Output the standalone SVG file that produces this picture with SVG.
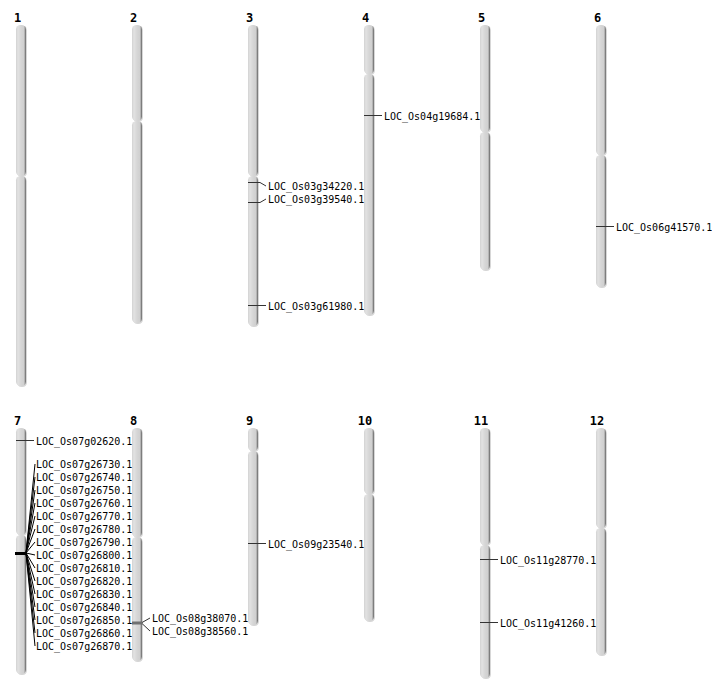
<svg xmlns="http://www.w3.org/2000/svg" width="712" height="700" viewBox="0 0 712 700">
<defs>
<linearGradient id="cg" x1="0" y1="0" x2="1" y2="0">
<stop offset="0" stop-color="#d2d2d2"/>
<stop offset="0.2" stop-color="#e2e2e2"/>
<stop offset="0.5" stop-color="#d6d6d6"/>
<stop offset="0.78" stop-color="#d0d0d0"/>
<stop offset="0.9" stop-color="#a0a0a0"/>
<stop offset="1" stop-color="#5a5a5a"/>
</linearGradient>
</defs>
<style>
.arm{fill:url(#cg);}
.sh{fill:#9a9a9a;opacity:0.4;}
.num{font-family:"DejaVu Sans Mono",monospace;font-weight:bold;font-size:12px;fill:#000;text-anchor:middle;}
.lab{font-family:"DejaVu Sans Mono",monospace;font-size:10px;fill:#000;}
.mk{stroke:#333;stroke-width:1;fill:none;}
.fan{stroke:#000;stroke-width:1;fill:none;}
</style>
<rect width="712" height="700" fill="#fff"/>

<g id="chr1">
<text class="num" x="17.5" y="22">1</text>
<rect class="sh" x="17" y="26" width="10" height="151" rx="4.5"/><rect class="sh" x="17" y="177" width="10" height="210" rx="4.5"/>
<rect class="arm" x="16" y="25" width="10" height="151" rx="4.5"/><rect class="arm" x="16" y="176" width="10" height="210" rx="4.5"/>
</g>
<g id="chr2">
<text class="num" x="133.5" y="22">2</text>
<rect class="sh" x="133" y="26" width="10" height="96" rx="4.5"/><rect class="sh" x="133" y="122" width="10" height="202" rx="4.5"/>
<rect class="arm" x="132" y="25" width="10" height="96" rx="4.5"/><rect class="arm" x="132" y="121" width="10" height="202" rx="4.5"/>
</g>
<g id="chr3">
<text class="num" x="249.5" y="22">3</text>
<rect class="sh" x="249" y="26" width="10" height="151" rx="4.5"/><rect class="sh" x="249" y="177" width="10" height="150" rx="4.5"/>
<rect class="arm" x="248" y="25" width="10" height="151" rx="4.5"/><rect class="arm" x="248" y="176" width="10" height="150" rx="4.5"/>
</g>
<g id="chr4">
<text class="num" x="365.5" y="22">4</text>
<rect class="sh" x="365" y="26" width="10" height="49" rx="4.5"/><rect class="sh" x="365" y="75" width="10" height="241" rx="4.5"/>
<rect class="arm" x="364" y="25" width="10" height="49" rx="4.5"/><rect class="arm" x="364" y="74" width="10" height="241" rx="4.5"/>
</g>
<g id="chr5">
<text class="num" x="481.5" y="22">5</text>
<rect class="sh" x="481" y="26" width="10" height="107" rx="4.5"/><rect class="sh" x="481" y="133" width="10" height="138" rx="4.5"/>
<rect class="arm" x="480" y="25" width="10" height="107" rx="4.5"/><rect class="arm" x="480" y="132" width="10" height="138" rx="4.5"/>
</g>
<g id="chr6">
<text class="num" x="597.5" y="22">6</text>
<rect class="sh" x="597" y="26" width="10" height="130" rx="4.5"/><rect class="sh" x="597" y="156" width="10" height="132" rx="4.5"/>
<rect class="arm" x="596" y="25" width="10" height="130" rx="4.5"/><rect class="arm" x="596" y="155" width="10" height="132" rx="4.5"/>
</g>
<g id="chr7">
<text class="num" x="17.5" y="425">7</text>
<rect class="sh" x="17" y="429" width="10" height="107" rx="4.5"/><rect class="sh" x="17" y="536" width="10" height="139" rx="4.5"/>
<rect class="arm" x="16" y="428" width="10" height="107" rx="4.5"/><rect class="arm" x="16" y="535" width="10" height="139" rx="4.5"/>
</g>
<g id="chr8">
<text class="num" x="133.5" y="425">8</text>
<rect class="sh" x="133" y="429" width="10" height="109" rx="4.5"/><rect class="sh" x="133" y="538" width="10" height="124" rx="4.5"/>
<rect class="arm" x="132" y="428" width="10" height="109" rx="4.5"/><rect class="arm" x="132" y="537" width="10" height="124" rx="4.5"/>
</g>
<g id="chr9">
<text class="num" x="249.5" y="425">9</text>
<rect class="sh" x="249" y="429" width="10" height="23" rx="4.5"/><rect class="sh" x="249" y="452" width="10" height="174" rx="4.5"/>
<rect class="arm" x="248" y="428" width="10" height="23" rx="4.5"/><rect class="arm" x="248" y="451" width="10" height="174" rx="4.5"/>
</g>
<g id="chr10">
<text class="num" x="365" y="425">10</text>
<rect class="sh" x="365" y="429" width="10" height="66" rx="4.5"/><rect class="sh" x="365" y="495" width="10" height="127" rx="4.5"/>
<rect class="arm" x="364" y="428" width="10" height="66" rx="4.5"/><rect class="arm" x="364" y="494" width="10" height="127" rx="4.5"/>
</g>
<g id="chr11">
<text class="num" x="481" y="425">11</text>
<rect class="sh" x="481" y="429" width="10" height="117" rx="4.5"/><rect class="sh" x="481" y="546" width="10" height="133" rx="4.5"/>
<rect class="arm" x="480" y="428" width="10" height="117" rx="4.5"/><rect class="arm" x="480" y="545" width="10" height="133" rx="4.5"/>
</g>
<g id="chr12">
<text class="num" x="597" y="425">12</text>
<rect class="sh" x="597" y="429" width="10" height="100" rx="4.5"/><rect class="sh" x="597" y="529" width="10" height="127" rx="4.5"/>
<rect class="arm" x="596" y="428" width="10" height="100" rx="4.5"/><rect class="arm" x="596" y="528" width="10" height="127" rx="4.5"/>
</g>

<g id="connectors">
<polyline class="mk" points="248,182.5 260,182.5 266,186"/>
<polyline class="mk" points="248,202.5 260,202.5 266,199"/>
<polyline class="mk" points="248,305.5 266,305.5"/>
<polyline class="mk" points="364,115.5 382,115.5"/>
<polyline class="mk" points="596,226.5 614,226.5"/>
<polyline class="mk" points="16,440.5 34,440.5"/>
<polyline class="mk" points="248,543.5 266,543.5"/>
<polyline class="mk" points="480,559.5 498,559.5"/>
<polyline class="mk" points="480,622.5 498,622.5"/>
<rect x="132" y="621.5" width="10" height="3" fill="#707070"/>
<polyline class="mk" points="142,622.5 150,618"/>
<polyline class="mk" points="142,623.5 150,631"/>
<rect x="15" y="552" width="11" height="3" fill="#000"/>
<g class="fan">
<line x1="26" y1="553" x2="35" y2="464"/>
<line x1="26" y1="553" x2="35" y2="477"/>
<line x1="26" y1="553" x2="35" y2="490"/>
<line x1="26" y1="553" x2="35" y2="503"/>
<line x1="26" y1="553" x2="35" y2="516"/>
<line x1="26" y1="553" x2="35" y2="529"/>
<line x1="26" y1="553" x2="35" y2="542"/>
<line x1="26" y1="553" x2="35" y2="555"/>
<line x1="26" y1="553" x2="35" y2="568"/>
<line x1="26" y1="553" x2="35" y2="581"/>
<line x1="26" y1="553" x2="35" y2="594"/>
<line x1="26" y1="553" x2="35" y2="607"/>
<line x1="26" y1="553" x2="35" y2="620"/>
<line x1="26" y1="553" x2="35" y2="633"/>
<line x1="26" y1="553" x2="35" y2="646"/>
</g>
</g>

<g id="genes">
<text class="lab" x="268" y="189.5">LOC_Os03g34220.1</text>
<text class="lab" x="268" y="202.5">LOC_Os03g39540.1</text>
<text class="lab" x="268" y="309.5">LOC_Os03g61980.1</text>
<text class="lab" x="384" y="119.5">LOC_Os04g19684.1</text>
<text class="lab" x="616" y="230.5">LOC_Os06g41570.1</text>
<text class="lab" x="36" y="444.5">LOC_Os07g02620.1</text>
<text class="lab" x="36" y="467.5">LOC_Os07g26730.1</text>
<text class="lab" x="36" y="480.5">LOC_Os07g26740.1</text>
<text class="lab" x="36" y="493.5">LOC_Os07g26750.1</text>
<text class="lab" x="36" y="506.5">LOC_Os07g26760.1</text>
<text class="lab" x="36" y="519.5">LOC_Os07g26770.1</text>
<text class="lab" x="36" y="532.5">LOC_Os07g26780.1</text>
<text class="lab" x="36" y="545.5">LOC_Os07g26790.1</text>
<text class="lab" x="36" y="558.5">LOC_Os07g26800.1</text>
<text class="lab" x="36" y="571.5">LOC_Os07g26810.1</text>
<text class="lab" x="36" y="584.5">LOC_Os07g26820.1</text>
<text class="lab" x="36" y="597.5">LOC_Os07g26830.1</text>
<text class="lab" x="36" y="610.5">LOC_Os07g26840.1</text>
<text class="lab" x="36" y="623.5">LOC_Os07g26850.1</text>
<text class="lab" x="36" y="636.5">LOC_Os07g26860.1</text>
<text class="lab" x="36" y="649.5">LOC_Os07g26870.1</text>
<text class="lab" x="152" y="621.5">LOC_Os08g38070.1</text>
<text class="lab" x="152" y="634.5">LOC_Os08g38560.1</text>
<text class="lab" x="268" y="547.5">LOC_Os09g23540.1</text>
<text class="lab" x="500" y="563.5">LOC_Os11g28770.1</text>
<text class="lab" x="500" y="626.5">LOC_Os11g41260.1</text>
</g>
</svg>
